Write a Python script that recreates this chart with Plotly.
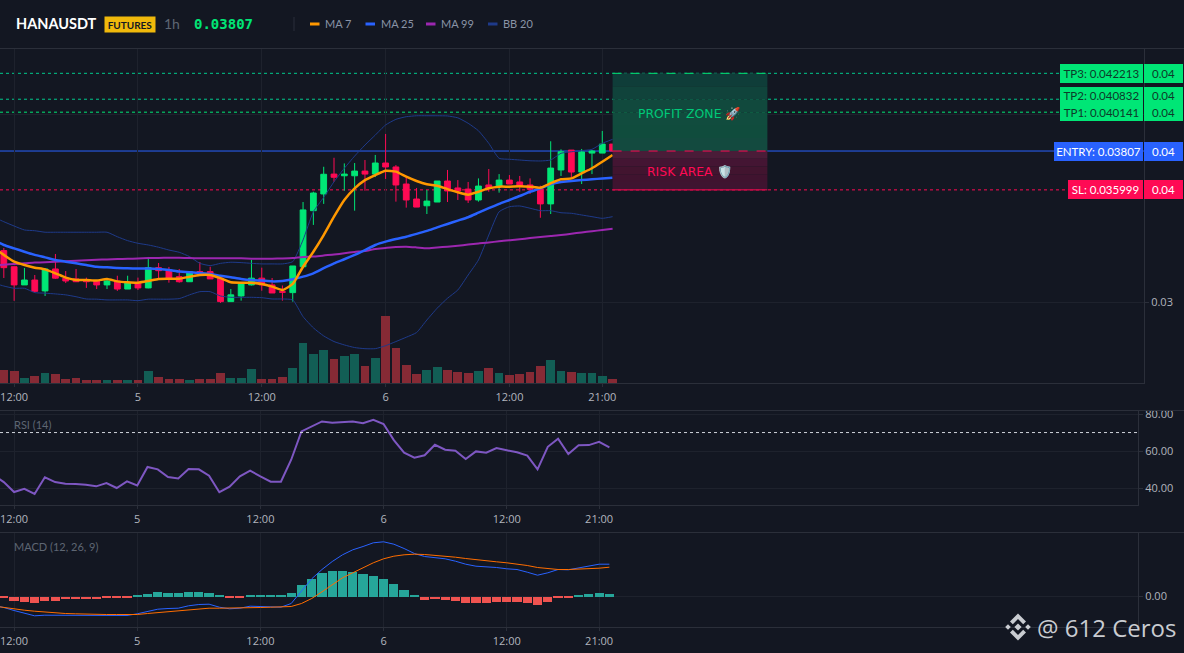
#!/usr/bin/env python3
"""HANAUSDT 1h futures chart with RSI and MACD panes, drawn with Plotly."""

import plotly.graph_objects as go

WIDTH = 1184
HEIGHT = 653

# Prices below are in 1e-5 USDT, one value per hourly candle from HOURS[0]
PRICE_UNIT = 1e-5
HOURS = list(range(-2, 59))
OPEN = [
    3300,
    3276, 3190, 3093, 3119, 3061, 3178, 3129, 3125, 3119, 3114,
    3093, 3114, 3071, 3103, 3077, 3185, 3173, 3137, 3110, 3164,
    3164, 3129, 3004, 3034, 3093, 3129, 3093, 3057, 3052, 3190,
    3489, 3578, 3684, 3675, 3675, 3700, 3684, 3743, 3722, 3631,
    3551, 3515, 3535, 3647, 3610, 3604, 3546, 3626, 3617, 3652,
    3642, 3626, 3604, 3525, 3706, 3812, 3695, 3796, 3796, 3844,
]
HIGH = [
    3340,
    3290, 3190, 3183, 3146, 3181, 3258, 3167, 3178, 3132, 3119,
    3130, 3142, 3142, 3132, 3242, 3210, 3189, 3178, 3167, 3215,
    3190, 3137, 3071, 3105, 3226, 3185, 3130, 3090, 3194, 3535,
    3590, 3723, 3771, 3741, 3743, 3759, 3786, 3898, 3732, 3670,
    3610, 3599, 3647, 3706, 3652, 3642, 3661, 3711, 3684, 3679,
    3674, 3661, 3622, 3859, 3816, 3812, 3818, 3812, 3914, 3844,
]
LOW = [
    3250,
    3130, 3008, 3093, 3052, 3034, 3125, 3103, 3110, 3077, 3071,
    3071, 3061, 3071, 3066, 3075, 3125, 3105, 3105, 3110, 3141,
    3125, 2997, 3004, 3009, 3090, 3062, 3050, 3009, 3004, 3190,
    3413, 3525, 3643, 3595, 3489, 3595, 3668, 3658, 3537, 3505,
    3508, 3471, 3535, 3535, 3546, 3530, 3537, 3590, 3585, 3631,
    3590, 3578, 3451, 3471, 3674, 3667, 3631, 3684, 3796, 3802,
]
CLOSE = [
    3276,
    3185, 3093, 3119, 3059, 3178, 3129, 3114, 3110, 3110, 3093,
    3114, 3071, 3103, 3077, 3185, 3169, 3130, 3110, 3164, 3150,
    3125, 3004, 3040, 3098, 3129, 3093, 3050, 3054, 3194, 3493,
    3583, 3683, 3667, 3684, 3700, 3684, 3743, 3722, 3626, 3546,
    3508, 3540, 3647, 3594, 3594, 3546, 3620, 3608, 3652, 3631,
    3620, 3603, 3525, 3716, 3803, 3695, 3802, 3807, 3844, 3807,
]
MA7 = [
    3290,
    3253, 3217, 3199, 3185, 3176, 3155, 3132, 3119, 3119, 3116,
    3125, 3112, 3107, 3105, 3114, 3125, 3126, 3126, 3137, 3146,
    3146, 3129, 3107, 3105, 3105, 3098, 3084, 3066, 3098, 3190,
    3270, 3359, 3457, 3546, 3608, 3652, 3679, 3702, 3697, 3670,
    3647, 3630, 3622, 3604, 3587, 3574, 3590, 3608, 3617, 3617,
    3619, 3617, 3611, 3635, 3656, 3661, 3688, 3715, 3750, 3786,
]
MA25 = [
    3333,
    3306, 3288, 3270, 3253, 3240, 3226, 3217, 3208, 3199, 3190,
    3187, 3183, 3182, 3180, 3180, 3178, 3173, 3164, 3160, 3157,
    3151, 3142, 3134, 3125, 3119, 3116, 3112, 3114, 3123, 3137,
    3155, 3182, 3208, 3230, 3253, 3279, 3306, 3324, 3338, 3350,
    3365, 3381, 3400, 3418, 3436, 3454, 3478, 3502, 3525, 3546,
    3567, 3590, 3608, 3630, 3642, 3647, 3652, 3656, 3661, 3665,
]
MA99 = [
    3197,
    3201, 3205, 3208, 3212, 3214, 3216, 3219, 3222, 3224, 3227,
    3229, 3231, 3232, 3234, 3236, 3237, 3238, 3238, 3236, 3235,
    3235, 3235, 3235, 3235, 3233, 3233, 3233, 3234, 3236, 3242,
    3244, 3250, 3255, 3262, 3269, 3274, 3285, 3290, 3295, 3297,
    3293, 3288, 3293, 3297, 3302, 3308, 3314, 3319, 3326, 3331,
    3336, 3343, 3349, 3354, 3359, 3366, 3373, 3379, 3386, 3393,
]
BB_UPPER = [
    3455,
    3430, 3407, 3386, 3382, 3374, 3374, 3374, 3374, 3374, 3374,
    3374, 3350, 3329, 3315, 3306, 3294, 3279, 3267, 3244, 3208,
    3196, 3208, 3214, 3212, 3208, 3205, 3205, 3205, 3217, 3333,
    3483, 3560, 3643, 3715, 3780, 3839, 3892, 3946, 3976, 3990,
    3995, 3995, 3995, 3994, 3984, 3955, 3915, 3848, 3768, 3763,
    3759, 3755, 3754, 3759, 3795, 3803, 3809, 3816, 3848, 3869,
]
BB_LOWER = [
    3103,
    3087, 3075, 3075, 3052, 3049, 3045, 3040, 3030, 3018, 3017,
    3013, 3013, 3013, 3009, 3017, 3017, 3017, 3020, 3040, 3057,
    3057, 3034, 3027, 3027, 3027, 3025, 3018, 3018, 3013, 2924,
    2864, 2821, 2791, 2773, 2759, 2753, 2753, 2769, 2791, 2814,
    2839, 2906, 2969, 3022, 3066, 3146, 3226, 3359, 3483, 3510,
    3514, 3502, 3489, 3489, 3478, 3475, 3466, 3457, 3448, 3457,
]
VOLUME = [
    10.0,
    13.3, 12.3, 5.3, 7.3, 10.3, 9.3, 4.3, 5.3, 3.3, 3.3,
    3.3, 3.3, 3.3, 3.3, 12.3, 6.3, 4.3, 4.3, 3.3, 4.3,
    4.3, 10.3, 5.3, 5.3, 14.3, 4.3, 4.3, 6.3, 15.3, 40.3,
    29.3, 33.3, 24.3, 27.3, 29.3, 17.3, 25.3, 67.3, 35.3, 18.3,
    9.3, 13.3, 16.3, 13.3, 11.3, 10.3, 12.3, 15.3, 10.3, 8.3,
    9.3, 11.3, 17.3, 23.3, 12.3, 11.3, 10.3, 10.3, 7.3, 4.3,
]
RSI = [
    47.0,
    43.2, 37.8, 39.6, 36.8, 45.8, 43.2, 42.3, 42.2, 41.8, 40.9,
    42.7, 40.0, 43.6, 41.4, 51.4, 50.1, 45.9, 45.2, 50.3, 50.1,
    46.7, 37.7, 40.7, 46.3, 49.4, 46.3, 43.4, 43.4, 55.3, 70.6,
    73.3, 76.0, 75.3, 75.5, 76.0, 75.0, 76.9, 74.6, 65.9, 59.1,
    56.4, 57.7, 63.4, 60.7, 60.2, 55.7, 59.8, 59.1, 61.6, 60.4,
    59.3, 57.5, 50.1, 62.3, 66.7, 58.4, 63.1, 63.2, 65.0, 62.0,
]
MACD = [
    -9.0,
    -11, -14, -16.3, -19.3, -18.7, -18.7, -19, -19, -19, -18.7,
    -18.7, -19, -19, -17.3, -14.7, -12.7, -12, -11.7, -9.3, -8,
    -7.7, -10.7, -12.3, -11.7, -9.7, -10, -10.7, -10.7, -7, 5.3,
    17.7, 27, 35, 41.7, 46.7, 50, 53.7, 54.7, 52.3, 48,
    43, 40, 39, 37.7, 35.3, 32.3, 30.3, 29.7, 29, 27.7,
    27, 24.3, 21.3, 23.7, 27, 26.7, 28.7, 31, 32.3, 32.3,
]
SIGNAL = [
    -9.5,
    -11, -12.3, -13.7, -14.7, -15.7, -16.3, -17, -17.3, -17.7, -18,
    -18, -18, -18, -18, -17, -16, -15, -14, -13, -12,
    -11.7, -11.7, -11.7, -11.7, -11.3, -11, -10.7, -10.7, -10, -7,
    -2, 4.7, 12, 18.7, 23.7, 28.7, 33.7, 37.7, 40.3, 41.7,
    42.3, 42, 41.3, 40.3, 39.3, 38, 36.7, 35.7, 34.7, 33.7,
    32.7, 31, 29, 27.7, 27, 27, 27.3, 27.7, 28.3, 29.3,
]
HIST = [
    -1,
    -1, -4, -5, -6, -4, -4, -2.7, -2.7, -2, -2,
    -1.3, -1, -0.7, 0.7, 3, 5, 4, 4, 5, 5,
    4, 1, -1, -0.7, 2, 2, 1, 1, 4, 12,
    18, 24, 26, 26, 25, 23, 21, 18, 13, 7,
    2, -3, -2, -3, -4, -6, -6, -6, -5, -5,
    -5, -6, -8, -5, -1, -1, 2, 3, 4, 3,
]

TICK_HOURS = [0, 12, 24, 36, 48, 57]
TICK_LABELS = ["12:00", "5", "12:00", "6", "12:00", "21:00"]
PRICE_TICKS = [0.03, 0.04]
PRICE_TICK_LABELS = ["0.03", "0.04"]
RSI_TICKS = [40, 60, 80]
RSI_LEVEL = 70

LEVEL_NAMES = ["TP3", "TP2", "TP1", "ENTRY", "SL"]
LEVEL_PRICES = [0.042213, 0.040832, 0.040141, 0.03807, 0.035999]
LEVEL_TEXT = ["0.042213", "0.040832", "0.040141", "0.03807", "0.035999"]
LEVEL_SHORT = "0.04"
ZONE_START_HOUR = 58
ZONE_END_HOUR = 73

BG = "#131722"
GRID = "#1e222d"
AXIS = "#2b2f3a"
TICK_TEXT = "#b2b5be"
UP = "#00e676"
DOWN = "#ff0a54"
BLUE = "#2962ff"
LABEL_FONT = "Lato"
TICK_FONT = dict(family="Open Sans", size=11, color=TICK_TEXT)

X_RANGE = [-1.37, 109.5]


def px(x):
    return x / WIDTH


def py(y):
    return 1 - y / HEIGHT


def scaled(values):
    return [v * PRICE_UNIT for v in values]


def add_text(annotations, x, y, text, size=12, color=TICK_TEXT, family=LABEL_FONT, anchor="left", **kw):
    annotations.append(dict(
        x=px(x), y=py(y), xref="paper", yref="paper", text=text, showarrow=False,
        xanchor=anchor, yanchor="middle", font=dict(family=family, size=size, color=color), **kw,
    ))


def hline_px(shapes, x0, x1, y, color=AXIS, width=1):
    shapes.append(dict(
        type="line", xref="paper", yref="paper", x0=px(x0), x1=px(x1), y0=py(y), y1=py(y),
        line=dict(color=color, width=width), layer="above",
    ))


def poly_path(points):
    return "M " + " L ".join(f"{px(a):.5f} {py(b):.5f}" for a, b in points) + " Z"


fig = go.Figure()

# volume sits on the base axis so the price traces stay above it
vol_colors = ["#125e55" if c >= o else "#862a35" for o, c in zip(OPEN, CLOSE)]
fig.add_trace(go.Bar(x=HOURS, y=VOLUME, width=0.85, marker=dict(color=vol_colors, line_width=0),
                     xaxis="x", yaxis="y"))

for values in (BB_UPPER, BB_LOWER):
    fig.add_trace(go.Scatter(x=HOURS, y=scaled(values), mode="lines", xaxis="x", yaxis="y2",
                             line=dict(color="#1e3a8a", width=1, shape="spline", smoothing=0.5)))

fig.add_trace(go.Candlestick(
    x=HOURS, open=scaled(OPEN), high=scaled(HIGH), low=scaled(LOW), close=scaled(CLOSE),
    xaxis="x", yaxis="y2", whiskerwidth=0,
    increasing=dict(line=dict(color=UP, width=1), fillcolor=UP),
    decreasing=dict(line=dict(color=DOWN, width=1), fillcolor=DOWN),
))

for values, color, width in [(MA99, "#9c27b0", 2), (MA25, BLUE, 2.5), (MA7, "#ff9800", 2.5)]:
    fig.add_trace(go.Scatter(x=HOURS, y=scaled(values), mode="lines", xaxis="x", yaxis="y2",
                             line=dict(color=color, width=width, shape="spline", smoothing=0.5)))

fig.add_trace(go.Scatter(x=HOURS, y=RSI, mode="lines", xaxis="x2", yaxis="y3",
                         line=dict(color="#7e57c2", width=2)))

hist_colors = ["#26a69a" if v >= 0 else "#ef5350" for v in HIST]
fig.add_trace(go.Bar(x=HOURS, y=scaled(HIST), width=0.9, marker=dict(color=hist_colors, line_width=0),
                     xaxis="x3", yaxis="y4"))
fig.add_trace(go.Scatter(x=HOURS, y=scaled(MACD), mode="lines", xaxis="x3", yaxis="y4",
                         line=dict(color=BLUE, width=1)))
fig.add_trace(go.Scatter(x=HOURS, y=scaled(SIGNAL), mode="lines", xaxis="x3", yaxis="y4",
                         line=dict(color="#ff6d00", width=1)))

shapes = []
annotations = []

# trade levels across the price pane
tp3, tp2, tp1, entry, stop = LEVEL_PRICES
for name, price in zip(LEVEL_NAMES, LEVEL_PRICES):
    color = {"ENTRY": BLUE, "SL": DOWN, "TP1": UP}.get(name, "#00c98c")
    shapes.append(dict(
        type="line", xref="paper", yref="y2", x0=0, x1=px(1144), y0=price, y1=price, layer="below",
        line=dict(color=color, width=1, dash="solid" if name == "ENTRY" else "dot"),
    ))

# profit and risk boxes, banded to get the soft vertical fade
profit_bands = ["#0f3d39", "#10433b", "#11493d", "#114c3e", "#104c3d", "#134a3f"]
risk_bands = ["#4a1c38", "#441533", "#42142f", "#40132f", "#3f1430"]
for bands, top, bottom in [(profit_bands, tp3, entry), (risk_bands, entry, stop)]:
    step = (top - bottom) / len(bands)
    for n, color in enumerate(bands):
        shapes.append(dict(
            type="rect", xref="x", yref="y2", x0=ZONE_START_HOUR, x1=ZONE_END_HOUR,
            y0=top - n * step, y1=top - (n + 1) * step, fillcolor=color, line_width=0, layer="above",
        ))
for price, color, dash in [(tp3, UP, "dash"), (entry, DOWN, "dash"), (stop, DOWN, "solid")]:
    shapes.append(dict(
        type="line", xref="x", yref="y2", x0=ZONE_START_HOUR, x1=ZONE_END_HOUR, y0=price, y1=price,
        line=dict(color=color, width=1, dash=dash), layer="above",
    ))

zone_mid = (ZONE_START_HOUR + ZONE_END_HOUR) / 2
for text, level, color in [("PROFIT ZONE 🚀", (tp3 + entry) / 2, "#00c878"),
                           ("RISK AREA 🛡️", (entry + stop) / 2, DOWN)]:
    annotations.append(dict(
        x=zone_mid, y=level, xref="x", yref="y2", yshift=-1.5, text=text, showarrow=False,
        font=dict(family="DejaVu Sans", size=12.4, color=color),
    ))

# labels on the right edge, one pair per level; TP2 is nudged up off TP1
label_widths = {"TP3": 83, "TP2": 83, "TP1": 83, "ENTRY": 89, "SL": 75}
label_shift = {"TP2": 4}
label_height = {"TP2": 17, "TP1": 17}
for name, price, text in zip(LEVEL_NAMES, LEVEL_PRICES, LEVEL_TEXT):
    bg = {"ENTRY": BLUE, "SL": DOWN}.get(name, UP)
    fg = "#ffffff" if name in ("ENTRY", "SL") else "#0d3b2a"
    shift = label_shift.get(name, 0)
    box = dict(xref="paper", yref="y2", y=price, yanchor="middle", yshift=shift, showarrow=False,
               height=label_height.get(name, 18.5), bgcolor=bg, borderpad=0, borderwidth=0,
               font=dict(family=LABEL_FONT, size=11.5, color=fg))
    annotations.append(dict(box, x=px(1143), xanchor="right", text=f"{name}: {text}", width=label_widths[name]))
    annotations.append(dict(box, x=px(1144), xanchor="left", text=LEVEL_SHORT, width=39))

# rsi overbought guide
shapes.append(dict(
    type="line", xref="paper", yref="y3", x0=0, x1=px(1138), y0=RSI_LEVEL, y1=RSI_LEVEL,
    line=dict(color="#d1d4dc", width=1, dash="dot"), layer="above",
))

# pane separators
for y in [48.5, 410.5, 532.5]:
    hline_px(shapes, 0, WIDTH, y)

# header
add_text(annotations, 14, 24, "<b>HANAUSDT</b>", size=14.5, color="#ffffff")
add_text(annotations, 130, 24.5, "<b>FUTURES</b>", size=10, color="#131722", anchor="center",
         bgcolor="#f0b90b", width=50, height=15, borderpad=0)
add_text(annotations, 162, 24, "1h", size=14, color="#5e6673")
add_text(annotations, 192, 24, "<b>0.03807</b>", size=14, color=UP, family="DejaVu Sans Mono")
shapes.append(dict(type="line", xref="paper", yref="paper", x0=px(294), x1=px(294), y0=py(17), y1=py(31),
                   line=dict(color=AXIS, width=1)))
legend = [("MA 7", "#ff9800", 310), ("MA 25", BLUE, 365.5), ("MA 99", "#9c27b0", 426), ("BB 20", "#1e3a8a", 488)]
for text, color, x in legend:
    hline_px(shapes, x, x + 9.5, 24, color=color, width=3)
    add_text(annotations, x + 13, 24, text, size=11, color="#8a94a6")

add_text(annotations, 12, 424, "RSI (14)", size=11, color="#5e6673")
add_text(annotations, 12, 546, "MACD (12, 26, 9)", size=11, color="#5e6673")

# watermark: exchange mark and handle
cx, cy = 1018, 627
mark = [
    [(cx, cy - 3.6), (cx + 3.6, cy), (cx, cy + 3.6), (cx - 3.6, cy)],
    [(cx - 10, cy - 2.8), (cx - 7.2, cy), (cx - 10, cy + 2.8), (cx - 12.8, cy)],
    [(cx + 10, cy - 2.8), (cx + 12.8, cy), (cx + 10, cy + 2.8), (cx + 7.2, cy)],
    [(cx, cy - 13.5), (cx + 8, cy - 5.5), (cx + 5.2, cy - 2.8), (cx, cy - 8), (cx - 5.2, cy - 2.8), (cx - 8, cy - 5.5)],
    [(cx, cy + 13.5), (cx + 8, cy + 5.5), (cx + 5.2, cy + 2.8), (cx, cy + 8), (cx - 5.2, cy + 2.8), (cx - 8, cy + 5.5)],
]
for points in mark:
    shapes.append(dict(type="path", xref="paper", yref="paper", path=poly_path(points),
                       fillcolor="#c9ccd1", line_width=0, layer="above"))
add_text(annotations, 1035, 627, "@ 612 Ceros", size=24, color="#c9ccd1", family="Open Sans")


def x_axis(right, anchor):
    return dict(
        domain=[0, px(right)], range=X_RANGE, anchor=anchor, tickmode="array", tickvals=TICK_HOURS,
        ticktext=TICK_LABELS, showgrid=True, gridcolor=GRID, gridwidth=1, zeroline=False, automargin=False,
        showline=True, linecolor=AXIS, ticks="outside", ticklen=3, tickcolor=AXIS, tickfont=TICK_FONT,
        ticklabelstandoff=1,
    )


def y_axis(top, bottom, anchor, **kw):
    return dict(
        domain=[py(bottom), py(top)], anchor=anchor, side="right", showgrid=True, gridcolor=GRID,
        zeroline=False, automargin=False, showline=True, linecolor=AXIS, ticks="outside", ticklen=4,
        tickcolor=AXIS, tickfont=TICK_FONT, **kw,
    )


price_axis = y_axis(49, 383, "x", range=[2570 * PRICE_UNIT, 4351 * PRICE_UNIT], tickmode="array",
                    tickvals=PRICE_TICKS, ticktext=PRICE_TICK_LABELS, overlaying="y")
price_axis.pop("domain")

fig.update_layout(
    width=WIDTH, height=HEIGHT, margin=dict(l=0, r=0, t=0, b=0),
    paper_bgcolor=BG, plot_bgcolor=BG, showlegend=False, bargap=0, boxgap=0.2, hovermode=False,
    shapes=shapes, annotations=annotations,
    xaxis=dict(x_axis(1144, "y"), rangeslider=dict(visible=False)),
    yaxis=dict(domain=[py(383), py(49)], range=[0, 334], visible=False, fixedrange=True, automargin=False),
    yaxis2=price_axis,
    xaxis2=x_axis(1138, "y3"),
    yaxis3=y_axis(410, 505, "x2", range=[30.8, 82.2], tickmode="array", tickvals=RSI_TICKS, tickformat=".2f"),
    xaxis3=x_axis(1138, "y4"),
    yaxis4=y_axis(532, 627, "x3", range=[-30.5 * PRICE_UNIT, 64.5 * PRICE_UNIT], tickmode="array",
                  tickvals=[0], tickformat=".2f"),
)

# default page body margin would push the chart off the 1184x653 window
fig.write_html(
    "out.html",
    config={"displayModeBar": False},
    post_script="document.body.style.margin='0';document.body.style.overflow='hidden';",
)
